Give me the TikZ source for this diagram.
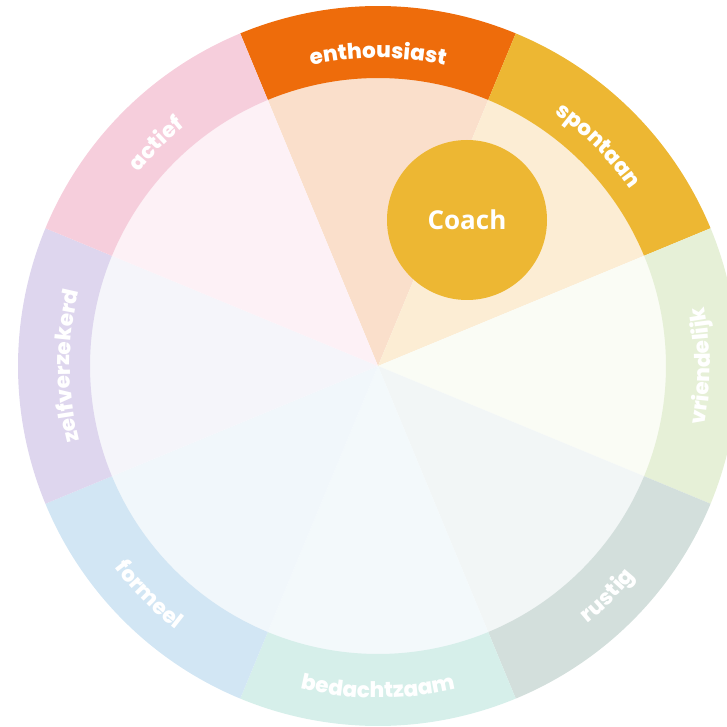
\documentclass[tikz,border=0pt]{standalone}
\usepackage{fontspec}
\usepackage{xcolor}
\usepackage{tikz}
\usetikzlibrary{decorations.text}
\newfontfamily\labelfont{Poppins ExtraBold}
\newfontfamily\coachfont{Open Sans}

\definecolor{enthRing}{HTML}{EE6C0B}
\definecolor{enthIn}{HTML}{FADFCB}
\definecolor{spontRing}{HTML}{EDB733}
\definecolor{spontIn}{HTML}{FCEDD4}
\definecolor{vriendRing}{HTML}{E6F0D7}
\definecolor{vriendIn}{HTML}{FAFCF5}
\definecolor{rustRing}{HTML}{D3DFDC}
\definecolor{rustIn}{HTML}{F2F6F6}
\definecolor{bedachtRing}{HTML}{D6EFEA}
\definecolor{bedachtIn}{HTML}{F3F9FB}
\definecolor{formRing}{HTML}{D2E6F4}
\definecolor{formIn}{HTML}{F1F7FB}
\definecolor{zelfRing}{HTML}{DED6EE}
\definecolor{zelfIn}{HTML}{F5F5FA}
\definecolor{actRing}{HTML}{F6CEDC}
\definecolor{actIn}{HTML}{FDF1F6}

\tikzset{
  outlabel/.style={decorate, decoration={text along path, text align=center,
      text={|\labelfont\fontsize{21.5}{26}\selectfont\color{white}|#1}}},
  inlabel/.style={outlabel=#1},
  coachdisc/.style={circle, fill=spontRing, minimum size=160pt, inner sep=0pt,
      text=white, font=\coachfont\bfseries\fontsize{26}{30}\selectfont}
}

\begin{document}
\begin{tikzpicture}
  [x=1pt, y=1pt]
  \useasboundingbox (-378,-361) rectangle (349,366);

  % slices and ring
  \foreach \a/\ring/\inner in {90/enthRing/enthIn, 45/spontRing/spontIn,
      0/vriendRing/vriendIn, -45/rustRing/rustIn, -90/bedachtRing/bedachtIn,
      -135/formRing/formIn, 180/zelfRing/zelfIn, 135/actRing/actIn} {
    \pgfmathsetmacro{\lo}{\a-22.5}
    \pgfmathsetmacro{\hi}{\a+22.5}
    \fill[\inner] (0,0) -- (\lo:288.5) arc[start angle=\lo, end angle=\hi, radius=288.5] -- cycle;
    \fill[\ring] (\lo:288) arc[start angle=\lo, end angle=\hi, radius=288]
      -- (\hi:360) arc[start angle=\hi, end angle=\lo, radius=360] -- cycle;
  }

  % labels, top half outward
  \path[outlabel=enthousiast] (112.5:308) arc[start angle=112.5, end angle=67.5, radius=308];
  \path[outlabel=spontaan] (67.5:308) arc[start angle=67.5, end angle=22.5, radius=308];
  \path[outlabel=actief] (157.5:308) arc[start angle=157.5, end angle=112.5, radius=308];
  \path[outlabel=zelfverzekerd] (202.5:308) arc[start angle=202.5, end angle=157.5, radius=308];
  % labels, bottom half inward
  \path[inlabel=vriendelijk] (-22.5:332) arc[start angle=-22.5, end angle=22.5, radius=332];
  \path[inlabel=rustig] (-67.5:332) arc[start angle=-67.5, end angle=-22.5, radius=332];
  \path[inlabel=bedachtzaam] (-112.5:332) arc[start angle=-112.5, end angle=-67.5, radius=332];
  \path[inlabel=formeel] (-157.5:332) arc[start angle=-157.5, end angle=-112.5, radius=332];

  \node[coachdisc] (coach) at (89,146) {Coach};
\end{tikzpicture}
\end{document}
